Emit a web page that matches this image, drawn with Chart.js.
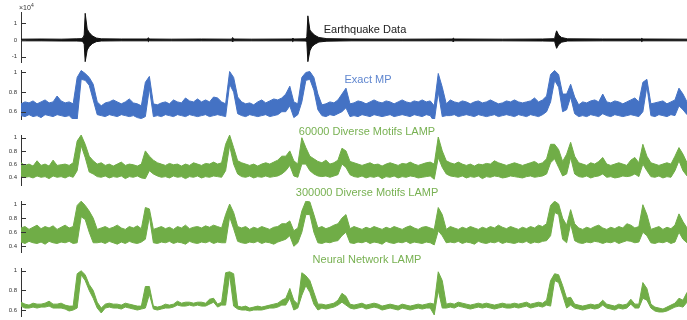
<!DOCTYPE html>
<html>
<head>
<meta charset="utf-8">
<script src="https://cdn.jsdelivr.net/npm/chart.js@4.4.0/dist/chart.umd.min.js"></script>
<style>
  html, body { margin: 0; padding: 0; background: #fff }
  #wrap { position: relative; width: 687px; height: 320px; overflow: hidden; font-family: 'Liberation Sans', Arial, sans-serif }
  #wrap canvas { position: absolute; left: 0 }
  .ttl { position: absolute; font-size: 11px; line-height: 11px; white-space: nowrap; transform: translate(-50%, -50%) }
  .exp { position: absolute; left: 19px; top: 2px; font-size: 7px; color: #333 }
  .exp sup { font-size: 5px }
</style>
</head>
<body>
<div id="wrap">
  <canvas id="quake" width="687" height="66" style="top:0"></canvas>
  <canvas id="exact" width="687" height="58" style="top:66px"></canvas>
  <canvas id="lamp60" width="687" height="66" style="top:124px"></canvas>
  <canvas id="lamp300" width="687" height="66" style="top:190px"></canvas>
  <canvas id="nnlamp" width="687" height="64" style="top:256px"></canvas>

  <div class="exp">&times;10<sup>4</sup></div>
  <div class="ttl" style="left:365px;top:29px;color:#222">Earthquake Data</div>
  <div class="ttl" style="left:368px;top:79px;color:#5f86cf">Exact MP</div>
  <div class="ttl" style="left:367px;top:131px;color:#78b152">60000 Diverse Motifs LAMP</div>
  <div class="ttl" style="left:367px;top:192px;color:#78b152">300000 Diverse Motifs LAMP</div>
  <div class="ttl" style="left:367px;top:259px;color:#78b152">Neural Network LAMP</div>
</div>

<script>
/**
 * Data (noisy traces kept as upper / lower envelope)
 */
const STEP = 4

// earthquake trace, x10^4, irregular sample times
const quakeTime = [0, 20, 40, 55, 60, 62, 63, 64, 66, 68, 71, 75, 80, 100, 126, 127, 128, 150, 180, 210, 211, 212, 230, 270, 271, 272,
  284, 285, 286, 288, 290, 293, 297, 305, 330, 380, 430, 431, 432, 480, 520, 532, 533, 534, 536, 539, 545, 580, 618, 619, 620, 664]
const quakeHi = [0.05, 0.06, 0.05, 0.07, 0.08, 0.15, 0.3, 1.6, 0.65, 0.45, 0.25, 0.12, 0.07, 0.06, 0.06, 0.14, 0.06, 0.05, 0.06, 0.05, 0.15, 0.06, 0.05, 0.06, 0.12, 0.06,
  0.07, 0.2, 1.45, 0.6, 0.45, 0.28, 0.15, 0.08, 0.06, 0.05, 0.06, 0.12, 0.06, 0.05, 0.06, 0.08, 0.35, 0.55, 0.3, 0.15, 0.07, 0.06, 0.06, 0.1, 0.06, 0.05]
const quakeLo = [-0.05, -0.05, -0.06, -0.06, -0.07, -0.12, -0.25, -1.3, -0.6, -0.4, -0.22, -0.1, -0.06, -0.05, -0.05, -0.1, -0.05, -0.05, -0.05, -0.05, -0.12, -0.05, -0.05, -0.05, -0.1, -0.05,
  -0.06, -0.15, -1.3, -0.65, -0.4, -0.25, -0.12, -0.07, -0.05, -0.05, -0.05, -0.12, -0.05, -0.05, -0.06, -0.07, -0.3, -0.5, -0.28, -0.13, -0.06, -0.05, -0.05, -0.1, -0.05, -0.05]

// Exact MP
const exactHi = [0.68, 0.7, 0.69, 0.71, 0.68, 0.7, 0.72, 0.69, 0.7, 0.76, 0.71, 0.69, 0.7, 0.68,
  0.95, 1.02, 0.99, 0.95, 0.88, 0.7, 0.66,
  0.69, 0.7, 0.72, 0.7, 0.68, 0.7, 0.73, 0.69, 0.68, 0.66,
  0.9, 0.96, 0.68,
  0.67, 0.69, 0.7, 0.68, 0.72, 0.7, 0.69, 0.74, 0.71, 0.7, 0.73, 0.7, 0.72, 0.7, 0.75, 0.74, 0.7,
  0.68, 1.01, 0.95, 0.75,
  0.7, 0.68, 0.69, 0.67, 0.7, 0.72, 0.69, 0.71, 0.73, 0.72, 0.74,
  0.78, 0.86, 0.7,
  0.68, 0.95, 1.0, 1.01, 0.95, 0.78, 0.67,
  0.68, 0.7, 0.69, 0.72,
  0.78, 0.84, 0.68,
  0.69, 0.71, 0.7, 0.68, 0.7, 0.72, 0.7, 0.69, 0.71, 0.7, 0.68, 0.7, 0.72, 0.7, 0.69, 0.71, 0.7, 0.72, 0.7, 0.71,
  0.66, 0.99, 0.85, 0.68,
  0.72, 0.7, 0.69, 0.71, 0.7, 0.68, 0.7, 0.71, 0.69, 0.7, 0.72, 0.7, 0.68, 0.69, 0.71, 0.7, 0.72, 0.7, 0.69, 0.7, 0.71, 0.74, 0.7, 0.72, 0.76,
  0.98, 1.02, 0.98, 0.78, 0.78, 0.88, 0.75, 0.67,
  0.7, 0.69, 0.71, 0.72, 0.7, 0.78, 0.7, 0.69, 0.71, 0.7, 0.68, 0.7, 0.72, 0.74, 0.7,
  0.9, 0.93, 0.68,
  0.69, 0.7, 0.71, 0.68, 0.7, 0.72, 0.84, 0.78, 0.7]
const exactLo = [0.56, 0.55, 0.57, 0.55, 0.56, 0.54, 0.57, 0.56, 0.55, 0.57, 0.56, 0.55, 0.56, 0.52,
  0.52, 0.93, 0.92, 0.87, 0.72, 0.57, 0.56,
  0.55, 0.57, 0.56, 0.55, 0.57, 0.56, 0.55, 0.56, 0.54, 0.53,
  0.55, 0.84, 0.55,
  0.56, 0.55, 0.57, 0.56, 0.55, 0.57, 0.56, 0.55, 0.57, 0.56, 0.55, 0.56, 0.57, 0.55, 0.56, 0.57, 0.56,
  0.55, 0.88, 0.8, 0.58,
  0.56, 0.55, 0.57, 0.56, 0.55, 0.56, 0.57, 0.55, 0.56, 0.57, 0.6,
  0.6, 0.66, 0.54,
  0.57, 0.7, 0.92, 0.93, 0.82, 0.62, 0.56,
  0.55, 0.57, 0.56, 0.58,
  0.6, 0.64, 0.55,
  0.56, 0.55, 0.57, 0.56, 0.55, 0.57, 0.56, 0.55, 0.56, 0.57, 0.55, 0.56, 0.57, 0.56, 0.55, 0.57, 0.56, 0.55, 0.57, 0.56,
  0.5, 0.8, 0.55, 0.56,
  0.56, 0.57, 0.55, 0.56, 0.57, 0.56, 0.55, 0.57, 0.56, 0.55, 0.56, 0.57, 0.55, 0.56, 0.57, 0.56, 0.55, 0.57, 0.56, 0.55, 0.57, 0.56, 0.55, 0.57, 0.6,
  0.7, 0.92, 0.85, 0.6, 0.62, 0.75, 0.58, 0.55,
  0.56, 0.55, 0.57, 0.56, 0.55, 0.58, 0.56, 0.55, 0.57, 0.56, 0.55, 0.56, 0.57, 0.56, 0.55,
  0.6, 0.86, 0.56,
  0.55, 0.57, 0.56, 0.55, 0.57, 0.56, 0.66, 0.62, 0.57]

// 60000 Diverse Motifs LAMP
const lamp60Hi = [0.62, 0.58, 0.6, 0.57, 0.65, 0.58, 0.6, 0.57, 0.66, 0.58, 0.59, 0.6, 0.58, 0.62,
  0.95, 1.04, 0.9, 0.72, 0.65,
  0.6, 0.62, 0.58, 0.6, 0.57, 0.6, 0.63, 0.58, 0.6, 0.59, 0.57, 0.6,
  0.8, 0.72, 0.66,
  0.62, 0.6, 0.58, 0.61, 0.59, 0.6, 0.57, 0.6, 0.58, 0.62, 0.6, 0.58, 0.61, 0.6, 0.63, 0.6, 0.62,
  0.9, 1.04, 0.85, 0.65,
  0.62, 0.6, 0.58, 0.6, 0.57, 0.6, 0.62, 0.6, 0.63, 0.66, 0.72,
  0.72, 0.8, 0.65,
  0.6, 1.0, 0.85, 0.72, 0.68, 0.64,
  0.62, 0.66, 0.6, 0.62, 0.66,
  0.84, 0.8, 0.64,
  0.62, 0.6, 0.58, 0.6, 0.62, 0.59, 0.6, 0.57, 0.6, 0.62, 0.6, 0.58, 0.61, 0.6, 0.63, 0.6, 0.58, 0.6, 0.62, 0.63,
  0.6, 1.01, 0.8, 0.65,
  0.62, 0.6, 0.63, 0.6, 0.58, 0.6, 0.57, 0.6, 0.59, 0.61, 0.6, 0.65, 0.62, 0.6, 0.58, 0.6, 0.62, 0.6, 0.58, 0.6, 0.62, 0.64, 0.6, 0.62, 0.68,
  0.9, 0.9, 0.82, 0.64, 0.75, 0.93, 0.72,
  0.62, 0.6, 0.58, 0.62, 0.6, 0.64, 0.7, 0.6, 0.58, 0.6, 0.62, 0.6, 0.58, 0.66, 0.7, 0.62,
  0.9, 0.72,
  0.62, 0.6, 0.58, 0.6, 0.62, 0.6, 0.72, 0.85, 0.75, 0.62]
const lamp60Lo = [0.42, 0.4, 0.41, 0.39, 0.42, 0.4, 0.41, 0.38, 0.42, 0.4, 0.41, 0.39, 0.42, 0.4,
  0.5, 0.88, 0.7, 0.48, 0.45,
  0.41, 0.4, 0.42, 0.39, 0.41, 0.4, 0.42, 0.38, 0.41, 0.4, 0.42, 0.39,
  0.38, 0.5, 0.45,
  0.42, 0.4, 0.41, 0.39, 0.42, 0.4, 0.41, 0.38, 0.41, 0.4, 0.42, 0.39, 0.41, 0.4, 0.42, 0.41, 0.4,
  0.5, 0.88, 0.6, 0.45,
  0.41, 0.4, 0.42, 0.39, 0.41, 0.4, 0.42, 0.4, 0.41, 0.42, 0.45,
  0.5, 0.58, 0.42,
  0.4, 0.6, 0.6, 0.5, 0.45, 0.42,
  0.41, 0.42, 0.4, 0.42, 0.44,
  0.6, 0.55, 0.44,
  0.41, 0.4, 0.42, 0.39, 0.41, 0.4, 0.42, 0.38, 0.41, 0.4, 0.42, 0.39, 0.41, 0.4, 0.42, 0.41, 0.39, 0.4, 0.41, 0.42,
  0.37, 0.7, 0.55, 0.45,
  0.42, 0.41, 0.4, 0.42, 0.39, 0.41, 0.4, 0.42, 0.38, 0.41, 0.4, 0.42, 0.41, 0.39, 0.4, 0.42, 0.41, 0.4, 0.39, 0.41, 0.42, 0.4, 0.41, 0.42, 0.45,
  0.62, 0.68, 0.55, 0.42, 0.45, 0.7, 0.45,
  0.41, 0.4, 0.42, 0.39, 0.41, 0.42, 0.45, 0.4, 0.41, 0.39, 0.4, 0.42, 0.41, 0.42, 0.45, 0.41,
  0.6, 0.5,
  0.41, 0.4, 0.42, 0.39, 0.41, 0.4, 0.5, 0.65, 0.5, 0.42]

// 300000 Diverse Motifs LAMP
const lamp300Hi = [0.66, 0.68, 0.64, 0.67, 0.7, 0.65, 0.68, 0.66, 0.69, 0.64, 0.67, 0.7, 0.66, 0.68,
  0.98, 1.04, 0.98, 0.9, 0.8, 0.64,
  0.66, 0.68, 0.65, 0.67, 0.7, 0.66, 0.64, 0.68, 0.66, 0.69, 0.65,
  0.95, 0.93, 0.64,
  0.66, 0.68, 0.65, 0.67, 0.64, 0.68, 0.66, 0.7, 0.65, 0.67, 0.68, 0.66, 0.69, 0.67, 0.7, 0.68, 0.66,
  0.85, 1.0, 0.88, 0.68,
  0.66, 0.68, 0.64, 0.67, 0.65, 0.68, 0.66, 0.64, 0.67, 0.68, 0.72,
  0.72, 0.76, 0.62,
  0.66, 0.9, 1.04, 1.03, 0.85, 0.66,
  0.68, 0.65, 0.67, 0.7, 0.72,
  0.8, 0.85, 0.65,
  0.68, 0.66, 0.64, 0.67, 0.65, 0.68, 0.66, 0.64, 0.67, 0.65, 0.68, 0.66, 0.64, 0.67, 0.69, 0.66, 0.64, 0.67, 0.68, 0.66,
  0.64, 0.95, 0.85, 0.64,
  0.68, 0.66, 0.64, 0.67, 0.65, 0.68, 0.66, 0.64, 0.67, 0.65, 0.68, 0.66, 0.7, 0.67, 0.65, 0.68, 0.66, 0.64, 0.67, 0.65, 0.68, 0.66, 0.7, 0.68, 0.72,
  0.98, 1.04, 1.0, 0.8, 0.7, 0.92, 0.72,
  0.66, 0.64, 0.67, 0.65, 0.68, 0.7, 0.66, 0.64, 0.67, 0.65, 0.68, 0.66, 0.72, 0.7, 0.66, 0.68,
  0.99, 0.85, 0.64,
  0.66, 0.68, 0.64, 0.67, 0.65, 0.7, 0.86, 0.75, 0.66]
const lamp300Lo = [0.46, 0.44, 0.47, 0.45, 0.44, 0.46, 0.43, 0.47, 0.45, 0.44, 0.46, 0.45, 0.47, 0.44,
  0.45, 0.82, 0.78, 0.6, 0.45, 0.45,
  0.46, 0.44, 0.47, 0.45, 0.43, 0.46, 0.44, 0.47, 0.45, 0.44, 0.46,
  0.5, 0.82, 0.45,
  0.44, 0.46, 0.45, 0.47, 0.44, 0.46, 0.45, 0.43, 0.47, 0.45, 0.44, 0.46, 0.45, 0.47, 0.44, 0.46, 0.45,
  0.45, 0.82, 0.65, 0.47,
  0.45, 0.44, 0.46, 0.45, 0.47, 0.44, 0.46, 0.45, 0.43, 0.46, 0.48,
  0.5, 0.55, 0.4,
  0.45, 0.6, 0.85, 0.85, 0.6, 0.45,
  0.44, 0.46, 0.45, 0.47, 0.48,
  0.55, 0.6, 0.45,
  0.44, 0.46, 0.45, 0.47, 0.44, 0.46, 0.45, 0.43, 0.47, 0.45, 0.44, 0.46, 0.45, 0.47, 0.44, 0.46, 0.45, 0.44, 0.46, 0.45,
  0.42, 0.62, 0.55, 0.45,
  0.46, 0.45, 0.47, 0.44, 0.46, 0.45, 0.43, 0.47, 0.45, 0.44, 0.46, 0.45, 0.47, 0.44, 0.46, 0.45, 0.44, 0.46, 0.45, 0.47, 0.44, 0.46, 0.45, 0.47, 0.48,
  0.55, 0.88, 0.85, 0.5, 0.45, 0.72, 0.48,
  0.45, 0.44, 0.46, 0.45, 0.47, 0.46, 0.44, 0.46, 0.45, 0.47, 0.44, 0.46, 0.48, 0.47, 0.45, 0.46,
  0.6, 0.55, 0.45,
  0.44, 0.46, 0.45, 0.47, 0.44, 0.46, 0.6, 0.5, 0.45]

// Neural Network LAMP
const nnHi = [0.68, 0.66, 0.65, 0.67, 0.66, 0.66, 0.67, 0.69, 0.66, 0.66, 0.67, 0.65, 0.64, 0.64,
  0.97, 1.0, 0.96, 0.86, 0.8, 0.68, 0.62, 0.66,
  0.67, 0.66, 0.66, 0.65, 0.67, 0.66, 0.65, 0.64, 0.64,
  0.84, 0.84, 0.64,
  0.63, 0.64, 0.66, 0.65, 0.66, 0.69, 0.67, 0.68, 0.68, 0.67, 0.68, 0.68, 0.67, 0.71, 0.72, 0.66, 0.68,
  0.98, 0.99, 0.97, 0.64,
  0.63, 0.64, 0.62, 0.63, 0.64, 0.63, 0.64, 0.65, 0.66, 0.67, 0.7,
  0.72, 0.82, 0.7,
  0.66, 0.98, 0.95, 0.9, 0.78, 0.66,
  0.66, 0.65, 0.66, 0.67, 0.7,
  0.77, 0.74,
  0.66, 0.65, 0.66, 0.67, 0.65, 0.66, 0.67, 0.66, 0.64, 0.65, 0.66, 0.65, 0.64, 0.66, 0.65, 0.64, 0.65, 0.66, 0.65, 0.66, 0.67,
  0.66, 0.99, 0.9, 0.66,
  0.67, 0.66, 0.68, 0.67, 0.66, 0.65, 0.66, 0.67, 0.66, 0.67, 0.66, 0.65, 0.66, 0.67, 0.66, 0.66, 0.67, 0.66, 0.67, 0.68, 0.66, 0.67, 0.68, 0.67, 0.7,
  0.9, 0.97, 0.96, 0.85, 0.72, 0.73,
  0.66, 0.65, 0.64, 0.65, 0.66, 0.65, 0.66, 0.7, 0.66, 0.65, 0.64, 0.66, 0.65, 0.66, 0.71, 0.66, 0.66,
  0.88, 0.82, 0.66,
  0.63, 0.62, 0.61, 0.63, 0.65, 0.67, 0.72, 0.7, 0.78]
const nnLo = [0.64, 0.62, 0.62, 0.63, 0.62, 0.63, 0.63, 0.64, 0.62, 0.62, 0.62, 0.61, 0.59, 0.6,
  0.62, 0.96, 0.9, 0.8, 0.72, 0.62, 0.57, 0.62,
  0.63, 0.62, 0.62, 0.61, 0.63, 0.62, 0.61, 0.6, 0.61,
  0.62, 0.76, 0.61,
  0.6, 0.61, 0.62, 0.62, 0.63, 0.65, 0.64, 0.64, 0.65, 0.64, 0.65, 0.64, 0.64, 0.66, 0.68, 0.63, 0.65,
  0.65, 0.96, 0.64, 0.61,
  0.6, 0.6, 0.59, 0.6, 0.6, 0.6, 0.61, 0.62, 0.62, 0.63, 0.65,
  0.65, 0.72, 0.6,
  0.62, 0.75, 0.85, 0.78, 0.66, 0.6,
  0.62, 0.61, 0.62, 0.63, 0.65,
  0.68, 0.65,
  0.62, 0.61, 0.62, 0.63, 0.61, 0.62, 0.63, 0.62, 0.6, 0.61, 0.62, 0.61, 0.6, 0.62, 0.61, 0.6, 0.61, 0.62, 0.61, 0.62, 0.62,
  0.55, 0.8, 0.62, 0.62,
  0.63, 0.62, 0.64, 0.63, 0.62, 0.61, 0.62, 0.63, 0.62, 0.63, 0.62, 0.61, 0.62, 0.63, 0.62, 0.62, 0.63, 0.62, 0.63, 0.64, 0.62, 0.63, 0.64, 0.63, 0.65,
  0.64, 0.9, 0.88, 0.75, 0.62, 0.65,
  0.62, 0.61, 0.6, 0.61, 0.62, 0.61, 0.62, 0.65, 0.62, 0.61, 0.6, 0.62, 0.61, 0.62, 0.66, 0.62, 0.62,
  0.72, 0.7, 0.62,
  0.59, 0.58, 0.58, 0.59, 0.61, 0.63, 0.64, 0.63, 0.68]

// tick labels of each panel
const quakeTicks = [-1, 0, 1]
const mpTicks = [0.6, 0.8, 1]
const lampTicks = [0.4, 0.6, 0.8, 1]

const BLUE  = '#4472c4',
      GREEN = '#70ad47',
      BLACK = '#111111'

/**
 * Short inward tick marks on the y axis
 */
const innerTicks = {
  id: 'innerTicks',
  afterDatasetsDraw (chart) {
    let y    = chart.scales.y,
        ctx  = chart.ctx,
        left = chart.chartArea.left
    ctx.save()
    ctx.strokeStyle = '#333'
    ctx.lineWidth = 1
    y.ticks.forEach(t => {
      let py = Math.round(y.getPixelForValue(t.value)) + 0.5
      ctx.beginPath()
      ctx.moveTo(left, py)
      ctx.lineTo(left + 5, py)
      ctx.stroke()
    })
    ctx.restore()
  }
}

function toPoints (xs, ys) {
  return ys.map((v, i) => ({x: xs ? xs[i] : i * STEP, y: v}))
}

function makePanel (id, p) {
  return new Chart(document.getElementById(id), {
    type   : 'line',
    data   : {
      datasets: [
        {data: toPoints(p.x, p.hi), borderColor: p.color, borderWidth: 1, pointRadius: 0, fill: false},
        {data: toPoints(p.x, p.lo), borderColor: p.color, borderWidth: 1, pointRadius: 0, fill: '-1', backgroundColor: p.color}
      ]
    },
    options: {
      responsive: false,
      animation : false,
      layout    : {padding: {top: p.padTop, bottom: p.padBottom, left: 0, right: 0}},
      plugins   : {legend: {display: false}, tooltip: {enabled: false}},
      scales    : {
        x: {type: 'linear', min: 0, max: 664, display: false},
        y: {
          min            : p.min,
          max            : p.max,
          afterBuildTicks: s => { s.ticks = p.ticks.map(v => ({value: v})) },
          afterFit       : s => {
            s.width = 21
            s.paddingTop = 0
            s.paddingBottom = 0
          },
          grid  : {display: false, drawTicks: false},
          border: {display: true, color: '#333', width: 1},
          ticks : {padding: 4, autoSkip: false, color: '#333', font: {size: 6, family: 'Liberation Sans, Arial, sans-serif'}, callback: v => String(v)}
        }
      }
    },
    plugins: [innerTicks]
  })
}

makePanel('quake', {x: quakeTime, hi: quakeHi, lo: quakeLo, color: BLACK, ticks: quakeTicks, min: -1.32, max: 1.68, padTop: 12, padBottom: 4})
makePanel('exact', {hi: exactHi, lo: exactLo, color: BLUE, ticks: mpTicks, min: 0.5255, max: 1.0255, padTop: 4, padBottom: 5})
makePanel('lamp60', {hi: lamp60Hi, lo: lamp60Lo, color: GREEN, ticks: lampTicks, min: 0.283, max: 1.041, padTop: 11, padBottom: 5})
makePanel('lamp300', {hi: lamp300Hi, lo: lamp300Lo, color: GREEN, ticks: lampTicks, min: 0.319, max: 1.0426, padTop: 11, padBottom: 4})
makePanel('nnlamp', {hi: nnHi, lo: nnLo, color: GREEN, ticks: mpTicks, min: 0.539, max: 1.0286, padTop: 12, padBottom: 4})
</script>
</body>
</html>
